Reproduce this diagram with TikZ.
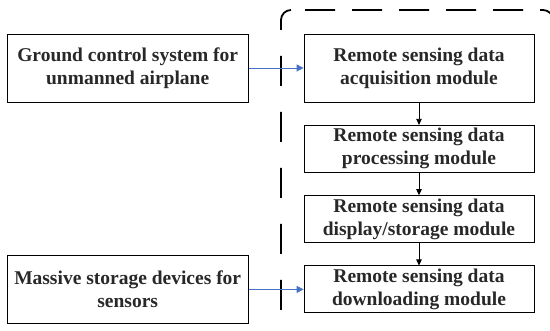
\documentclass[tikz,border=0pt]{standalone}
\usepackage{fontspec}
\setmainfont{Liberation Serif}
\usetikzlibrary{arrows.meta, positioning}
\definecolor{linkblue}{RGB}{68,114,196}
\definecolor{inkgray}{RGB}{40,40,40}

\begin{document}
\begin{tikzpicture}[
  x=1pt, y=1pt,
  node distance=22.5pt and 55pt,
  modbox/.style={draw, line width=0.8pt, minimum width=230pt, minimum height=47pt, inner sep=0pt,
    align=center, text=inkgray, font=\fontsize{19.5}{23}\selectfont\bfseries},
  srcbox/.style={modbox, minimum width=241pt, minimum height=68pt},
  flow/.style={draw=linkblue, line width=0.8pt, -{Triangle[length=7pt, width=7pt]}},
  chainarrow/.style={draw, line width=0.8pt, -{Triangle[length=6pt, width=5.5pt]}},
  dashbox/.style={draw, line width=1.8pt, rounded corners=10pt}
  ]
  \useasboundingbox (0,0) rectangle (550,331);
  \clip (0,0) rectangle (550,331);
  % dashed frame round the module chain
  \draw[dashbox, dash pattern=on 30pt off 26pt] (281,-35) |- (291,321);
  \draw[dashbox, dash pattern=on 30pt off 17pt] (305,321) -| (553,-35);
  % module chain
  \coordinate (top) at (419,263);
  \node[modbox, minimum height=68pt] (acq) at (top) {Remote sensing data\\acquisition module};
  \node[modbox, below=of acq] (proc) {Remote sensing data\\processing module};
  \node[modbox, below=of proc] (disp) {Remote sensing data\\display/storage module};
  \node[modbox, below=of disp] (down) {Remote sensing data\\downloading module};
  % sources
  \node[srcbox, left=of acq] (ground) {Ground control system for\\unmanned airplane};
  \node[srcbox, left=of down] (massive) {Massive storage devices for\\sensors};
  \draw[chainarrow] (acq) -- (proc);
  \draw[chainarrow] (proc) -- (disp);
  \draw[chainarrow] (disp) -- (down);
  \draw[flow] (ground) -- (acq);
  \draw[flow] (massive) -- (down);
\end{tikzpicture}
\end{document}
